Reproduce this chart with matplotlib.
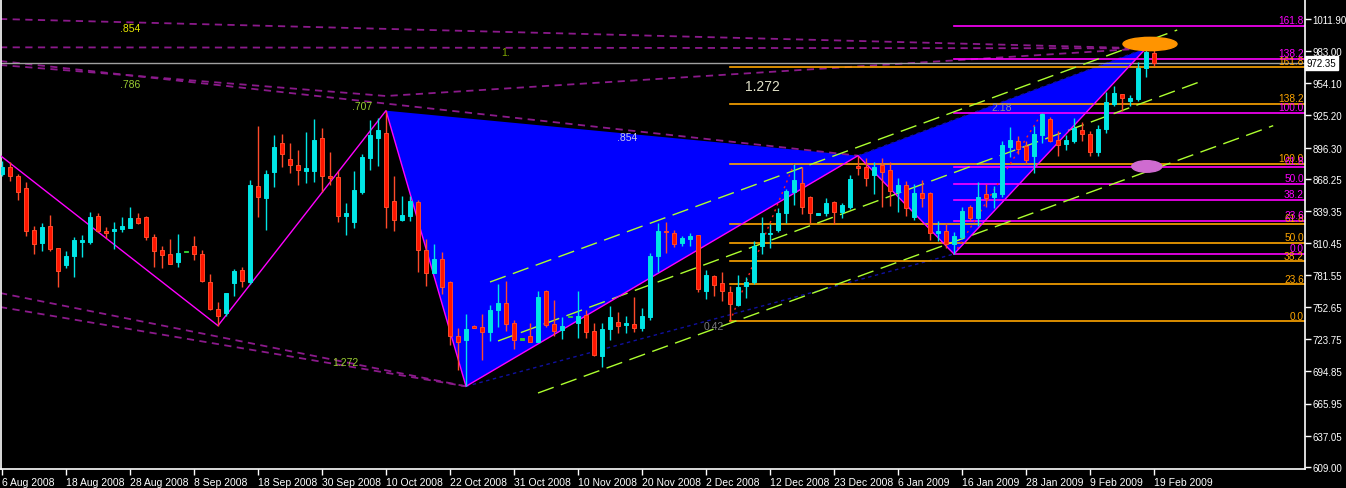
import numpy as np
import matplotlib
matplotlib.use("Agg")
import matplotlib.pyplot as plt
from matplotlib.patches import Polygon, Ellipse
from matplotlib.transforms import blended_transform_factory

plt.rcParams['font.family'] = ['Liberation Sans', 'DejaVu Sans']

# daily candles, 6 Aug 2008 .. 19 Feb 2009 (bar index = trading day)
opens = [872.5, 878.5, 870.4, 859.6, 821.8, 810.7, 825.4, 805.6, 790.9, 799.0,
         811.6, 811.6, 834.4, 821.2, 820.9, 823.3, 824.2, 832.6, 833.5, 815.5,
         804.1, 800.2, 793.6, 802.0, 807.4, 800.5, 775.0, 751.0, 747.1, 774.1,
         785.8, 775.6, 861.4, 851.2, 874.0, 900.1, 885.7, 880.3, 875.5, 875.5,
         904.6, 870.4, 869.5, 835.0, 829.6, 856.6, 886.9, 905.2, 909.4, 847.9,
         831.4, 835.0, 847.0, 803.8, 783.1, 795.7, 775.3, 726.4, 722.8, 735.7,
         734.5, 730.0, 749.8, 756.1, 738.1, 723.1, 726.4, 721.6, 766.9, 737.2,
         732.4, 743.5, 738.1, 745.6, 730.9, 709.0, 733.0, 739.0, 736.6, 737.5,
         733.9, 744.1, 799.0, 821.5, 819.1, 810.4, 814.0, 817.3, 766.9, 780.4,
         774.1, 766.0, 754.3, 771.4, 775.6, 807.4, 818.2, 822.4, 837.1, 856.6,
         864.1, 851.5, 835.9, 837.1, 847.0, 838.6, 843.1, 878.8, 878.5, 871.9,
         880.9, 876.1, 856.6, 862.6, 833.5, 855.1, 855.1, 819.7, 820.9, 809.2,
         815.5, 843.1, 832.9, 854.5, 852.1, 854.5, 897.1, 901.9, 897.4, 888.4,
         907.9, 922.0, 903.1, 899.5, 902.5, 912.1, 908.5, 892.6, 913.0, 935.5,
         944.2, 938.5, 940.0, 967.6, 981.4]
highs = [884.5, 883.0, 872.5, 865.0, 825.4, 828.1, 835.6, 805.6, 802.9, 815.5,
         817.6, 838.3, 837.4, 824.5, 829.0, 833.5, 842.8, 837.4, 834.4, 818.2,
         807.4, 813.7, 818.2, 802.0, 816.4, 804.1, 782.5, 757.6, 765.1, 787.0,
         788.5, 867.1, 915.7, 876.1, 907.6, 908.5, 900.4, 894.1, 910.3, 922.0,
         913.9, 892.3, 875.5, 846.4, 875.2, 890.5, 921.1, 922.9, 929.5, 870.4,
         852.4, 853.0, 849.1, 814.0, 809.5, 802.0, 776.5, 733.9, 746.5, 736.6,
         746.5, 754.6, 773.5, 776.5, 741.4, 723.1, 738.4, 767.2, 768.1, 759.1,
         743.5, 743.5, 766.9, 750.1, 738.4, 738.4, 753.4, 748.0, 744.4, 761.8,
         751.6, 801.4, 828.4, 829.0, 822.1, 816.4, 819.4, 817.3, 785.8, 781.9,
         784.0, 772.0, 781.6, 779.5, 811.9, 833.5, 827.5, 841.6, 859.0, 881.5,
         878.5, 853.0, 837.4, 850.9, 848.5, 846.1, 871.6, 889.0, 886.6, 883.0,
         886.6, 883.0, 868.9, 866.5, 863.5, 867.1, 856.0, 829.9, 828.1, 820.0,
         843.1, 844.6, 865.0, 863.5, 861.4, 901.9, 914.5, 907.0, 901.9, 915.4,
         927.4, 923.5, 911.5, 907.6, 922.6, 919.0, 911.5, 916.6, 946.6, 951.4,
         944.2, 943.6, 973.0, 985.6, 984.4]
lows = [871.0, 866.5, 849.4, 817.0, 800.8, 803.5, 803.5, 771.1, 788.2, 780.0,
        798.1, 809.5, 820.0, 814.6, 805.3, 820.6, 824.2, 827.5, 813.4, 789.1,
        787.9, 791.8, 789.1, 802.0, 795.4, 775.0, 750.4, 736.0, 745.0, 763.0,
        770.5, 773.5, 833.5, 822.4, 861.1, 879.1, 873.1, 862.9, 864.7, 865.6,
        856.0, 862.6, 829.0, 817.9, 823.9, 854.5, 876.4, 880.0, 823.9, 821.5,
        830.5, 830.5, 784.0, 772.0, 783.1, 764.5, 718.9, 696.4, 681.4, 734.2,
        705.4, 722.5, 735.1, 731.5, 715.3, 723.1, 721.0, 721.0, 735.1, 727.0,
        724.3, 743.5, 724.6, 724.9, 708.4, 698.5, 723.4, 729.4, 729.4, 730.6,
        731.5, 741.4, 784.6, 801.4, 806.8, 808.0, 808.0, 766.6, 760.0, 763.0,
        758.5, 739.9, 754.0, 761.2, 773.5, 800.5, 806.2, 820.0, 828.4, 844.9,
        836.5, 828.4, 835.9, 835.0, 827.2, 832.9, 841.0, 871.6, 861.4, 854.5,
        843.1, 843.4, 838.0, 835.0, 831.4, 843.1, 813.4, 812.5, 805.6, 800.5,
        814.0, 830.5, 826.0, 842.5, 841.9, 851.5, 887.5, 890.5, 881.5, 873.1,
        900.1, 901.0, 889.0, 894.1, 900.4, 902.5, 889.0, 889.0, 909.4, 933.4,
        928.9, 934.0, 938.5, 959.5, 969.4]
closes = [878.5, 871.0, 856.0, 821.5, 809.8, 824.5, 805.3, 785.5, 798.4, 812.8,
          811.9, 833.5, 821.5, 819.7, 823.0, 825.4, 832.6, 828.7, 816.1, 803.5,
          799.9, 791.8, 801.1, 802.0, 800.8, 776.5, 751.0, 745.0, 765.1, 784.9,
          776.5, 862.6, 851.5, 872.2, 896.5, 890.2, 880.3, 875.8, 877.6, 902.8,
          871.0, 869.2, 835.0, 837.1, 858.1, 887.5, 907.6, 911.8, 843.1, 831.4,
          835.3, 847.9, 804.4, 783.1, 795.7, 770.5, 727.0, 721.0, 733.0, 734.2,
          730.0, 750.1, 756.4, 737.8, 722.8, 723.1, 721.6, 761.5, 736.6, 731.5,
          735.4, 743.5, 744.4, 730.6, 709.9, 733.0, 743.8, 735.4, 737.2, 733.6,
          744.4, 798.4, 820.9, 820.0, 809.8, 814.6, 816.4, 768.7, 781.6, 772.9,
          766.9, 755.8, 770.5, 775.0, 808.0, 819.4, 819.1, 837.1, 856.9, 867.1,
          843.1, 837.4, 837.4, 846.1, 838.6, 844.3, 868.0, 877.9, 868.9, 878.5,
          874.6, 856.9, 862.6, 841.6, 855.4, 851.2, 819.1, 820.3, 809.5, 816.4,
          839.5, 833.2, 852.1, 851.2, 855.4, 898.6, 903.1, 895.0, 885.4, 908.5,
          926.5, 902.5, 898.9, 903.1, 913.6, 908.8, 892.6, 913.0, 937.0, 945.4,
          940.6, 940.9, 967.6, 982.0, 972.35]

date_labels = ["6 Aug 2008", "18 Aug 2008", "28 Aug 2008", "8 Sep 2008", "18 Sep 2008",
               "30 Sep 2008", "10 Oct 2008", "22 Oct 2008", "31 Oct 2008", "10 Nov 2008",
               "20 Nov 2008", "2 Dec 2008", "12 Dec 2008", "23 Dec 2008", "6 Jan 2009",
               "16 Jan 2009", "28 Jan 2009", "9 Feb 2009", "19 Feb 2009"]
price_ticks = [609.00, 637.05, 665.95, 694.85, 723.75, 752.65, 781.55, 810.45,
               839.35, 868.25, 896.30, 925.20, 954.10, 983.00, 1011.90]
last_price = 972.35

# zigzag / harmonic pattern pivots (bar, price)
zz_bar = [-0.3, 27, 48, 58, 107, 119, 143]
zz_price = [889.6, 736.0, 929.5, 681.4, 889.0, 800.5, 985.6]

# fibonacci retracements: (start bar, low, high)
fib_levels = [0.0, 23.6, 38.2, 50.0, 61.8, 100.0, 138.2, 161.8]
fib_orange = (91, 739.9, 881.5)
fib_magenta = (119, 800.5, 927.4)

# dashed purple ratio lines: lists of (bar, price)
purple_lines = [
    [(-0.25, 1012.0), (143, 985.6)],
    [(-0.25, 986.5), (143, 985.6)],
    [(-0.25, 974.2), (107, 889.0)],
    [(-0.25, 970.6), (48, 942.7), (143, 985.6)],
    [(-0.25, 765.4), (58, 681.4)],
    [(-0.25, 752.8), (58, 681.4)],
]
# green channel (start, end)
channel = [
    [(61, 775.3), (146.9, 1002.1)],
    [(62, 722.2), (150, 956.2)],
    [(67, 675.4), (158.9, 916.0)],
]
red_dotted = [[(91, 739.9), (99, 881.5)], [(119, 800.5), (130, 927.4)]]
navy_dotted = [[(58, 681.4), (119, 800.5)], [(107, 889.0), (143, 985.6)]]

ratio_text = [(".854", 16, 1003.9, '#E6E600'), ("1.", 62.9, 982.3, '#7FA800'),
              (".786", 16, 953.5, '#9ACD32'), (".707", 45, 933.7, '#9ACD32'),
              (".854", 78.1, 905.8, '#C8C8E8'), ("1.272", 42.9, 703.3, '#9ACD32'),
              ("0.42", 89, 735.7, '#7A7A7A'), ("2.18", 125, 932.8, '#8A8AA8')]

x = np.arange(len(opens))
o = np.array(opens)
c = np.array(closes)
h = np.array(highs)
l = np.array(lows)

fig = plt.figure(figsize=(13.46, 4.89), dpi=100, facecolor='black')
ax = fig.add_axes([1 / 1346, 19 / 489, 1304 / 1346, 470 / 489])
ax.set_facecolor('black')
XMAX = 162.875
ax.set_xlim(-0.125, XMAX)
ax.set_ylim(607.0, 1030.0)

# harmonic pattern triangles
for k in (2, 4):
    pts = list(zip(zz_bar[k:k + 3], zz_price[k:k + 3]))
    ax.add_patch(Polygon(pts, closed=True, facecolor='#0000FF', edgecolor='none', zorder=1))

for line in purple_lines:
    xs, ys = zip(*line)
    ax.plot(xs, ys, color='#8B1A8B', lw=1.3, dashes=(4, 3), zorder=2)

for line in navy_dotted:
    xs, ys = zip(*line)
    ax.plot(xs, ys, color='#1010A0', lw=1.0, dashes=(2.5, 2.5), zorder=2)

# fib retracement lines
for (start, lo, hi), col in ((fib_orange, '#FFA500'), (fib_magenta, '#FF00FF')):
    for pct in fib_levels:
        lvl = lo + pct / 100.0 * (hi - lo)
        ax.plot([start, XMAX], [lvl, lvl], color=col, lw=1.2, zorder=2.5)
        ax.text(XMAX - 0.15, lvl + 0.6, "%.1f" % pct, color=col, fontsize=7.3,
                ha='right', va='bottom', zorder=6)

for line in channel:
    xs, ys = zip(*line)
    ax.plot(xs, ys, color='#ADFF2F', lw=1.0, dashes=(12, 5.5), zorder=3)

for line in red_dotted:
    xs, ys = zip(*line)
    ax.plot(xs, ys, color='#FF2020', lw=1.0, dashes=(1.5, 3), zorder=3)

ax.plot(zz_bar, zz_price, color='#FF00FF', lw=1.0, zorder=3.5)

# candles
up = c > o
doji = c == o
wick_col = np.where(up, '#00E5E5', '#FF4A2A')
wick_col = np.where(doji, '#33CC33', wick_col)
ax.vlines(x, l, h, colors=wick_col, lw=1.0, zorder=4)
body_lo = np.minimum(o, c)
body_h = np.maximum(np.abs(c - o), 1.4)
fill = np.where(up, '#00E5E5', '#FF1500')
fill = np.where(doji, '#33CC33', fill)
edge = np.where(up, '#00E5E5', '#FF4A2A')
edge = np.where(doji, '#33CC33', edge)
ax.bar(x, body_h, bottom=body_lo, width=0.55, color=fill, edgecolor=edge, lw=0.7, zorder=4.5)

# ellipses at pattern completion
ax.add_patch(Ellipse((143.5, 989.5), 6.75, 12.0, color='#FF9400', zorder=5))
ax.add_patch(Ellipse((143.1, 879.3), 3.75, 10.4, color='#CF6BD0', zorder=5))

for txt, bx, py, col in ratio_text:
    ax.text(bx, py, txt, color=col, fontsize=7.5, ha='center', va='center', zorder=6)
ax.text(95, 951.7, "1.272", color='#E0E0C8', fontsize=10, ha='center', va='center', zorder=6)

# current price line and box
ax.axhline(last_price, color='#A0A0A0', lw=1.0, zorder=2)
trans = blended_transform_factory(ax.transAxes, ax.transData)
ax.text(1.0012, last_price, "%.2f" % last_price, transform=trans, color='black', fontsize=7.0,
        ha='left', va='center', bbox=dict(facecolor='white', edgecolor='white', pad=1.2), zorder=7)

# axes styling
for side in ('left', 'right', 'bottom'):
    ax.spines[side].set_color('white')
    ax.spines[side].set_linewidth(1.2)
ax.spines['top'].set_visible(False)
ax.yaxis.tick_right()
ax.set_yticks(price_ticks)
ax.set_yticklabels(["%.2f" % p for p in price_ticks])
ax.set_xticks(np.arange(0, len(date_labels) * 8, 8))
ax.set_xticklabels(date_labels, ha='left')
ax.tick_params(axis='y', colors='white', length=4, width=1, labelsize=7.0, pad=1.5)
ax.tick_params(axis='x', colors='white', length=4, width=1, labelsize=7.5, pad=1.5)

fig.savefig("out.png", dpi=100, facecolor='black')
